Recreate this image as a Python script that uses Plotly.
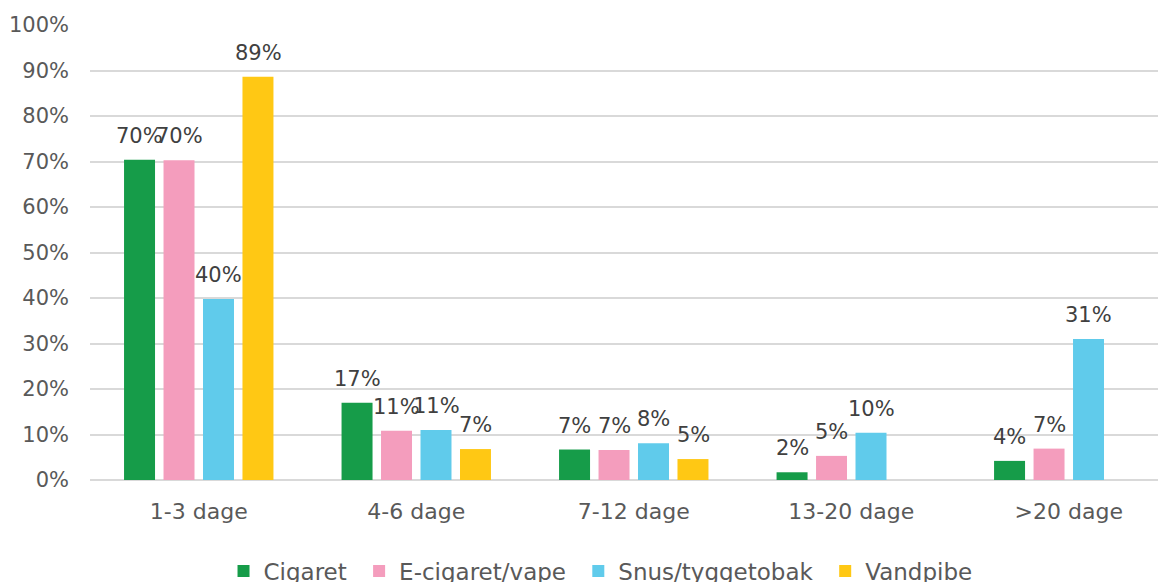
import plotly.graph_objects as go

categories = ["1-3 dage", "4-6 dage", "7-12 dage", "13-20 dage", ">20 dage"]
series_names = ["Cigaret", "E-cigaret/vape", "Snus/tyggetobak", "Vandpibe"]
cigaret = [70.4, 17.0, 6.7, 1.7, 4.2]
ecigaret = [70.3, 10.8, 6.6, 5.3, 6.9]
snus = [39.8, 11.0, 8.1, 10.4, 31.0]
vandpibe = [88.6, 6.8, 4.6, None, None]
colors = ["#169c49", "#f49dbd", "#60cbeb", "#ffc814"]
y_ticks = [0, 10, 20, 30, 40, 50, 60, 70, 80, 90, 100]
y_ticktext = [f"{v}%" for v in y_ticks]

FONT = "DejaVu Sans"
TXT = "#595959"
LBL = "#404040"
SLOT_PX = 39.5  # horizontal pitch of bars within a group

fig = go.Figure()
all_series = [cigaret, ecigaret, snus, vandpibe]
for name, vals, col in zip(series_names, all_series, colors):
    fig.add_trace(go.Bar(
        x=categories, y=vals, name=name + "\u00a0",
        marker=dict(color=col, line=dict(width=0)),
    ))

for i, vals in enumerate(all_series):
    for cat, v in zip(categories, vals):
        if v is None:
            continue
        fig.add_annotation(
            x=cat, y=v, xref="x", yref="y", text=f"{round(v)}%",
            showarrow=False, yanchor="bottom", xanchor="center",
            xshift=(i - 1.5) * SLOT_PX, yshift=10,
            font=dict(family=FONT, size=21, color=LBL),
        )

fig.update_layout(
    width=1158, height=574,
    margin=dict(l=82, r=0, t=17, b=102),
    paper_bgcolor="white", plot_bgcolor="white",
    barmode="group", bargap=0.274, bargroupgap=0.215,
    font=dict(family=FONT, size=21, color=TXT),
    showlegend=True,
    legend=dict(orientation="h", xref="container", x=0.5147, xanchor="center",
                yref="container", y=0.019, yanchor="middle",
                font=dict(family=FONT, size=23, color=TXT),
                itemwidth=30, tracegroupgap=0),
    xaxis=dict(range=[-0.5, 4.447], showgrid=False, showline=False,
               ticks="", automargin=False, ticklabelstandoff=16,
               tickfont=dict(family=FONT, size=22, color=TXT)),
    yaxis=dict(range=[0, 100], tickvals=y_ticks, ticktext=y_ticktext,
               showgrid=True, gridcolor="#d9d9d9", gridwidth=1.5,
               zeroline=True, zerolinecolor="#d9d9d9", zerolinewidth=2,
               showline=False, ticks="", ticklabelstandoff=20, automargin=False,
               tickfont=dict(family=FONT, size=21, color=TXT)),
)

fig.write_html("out.html")
